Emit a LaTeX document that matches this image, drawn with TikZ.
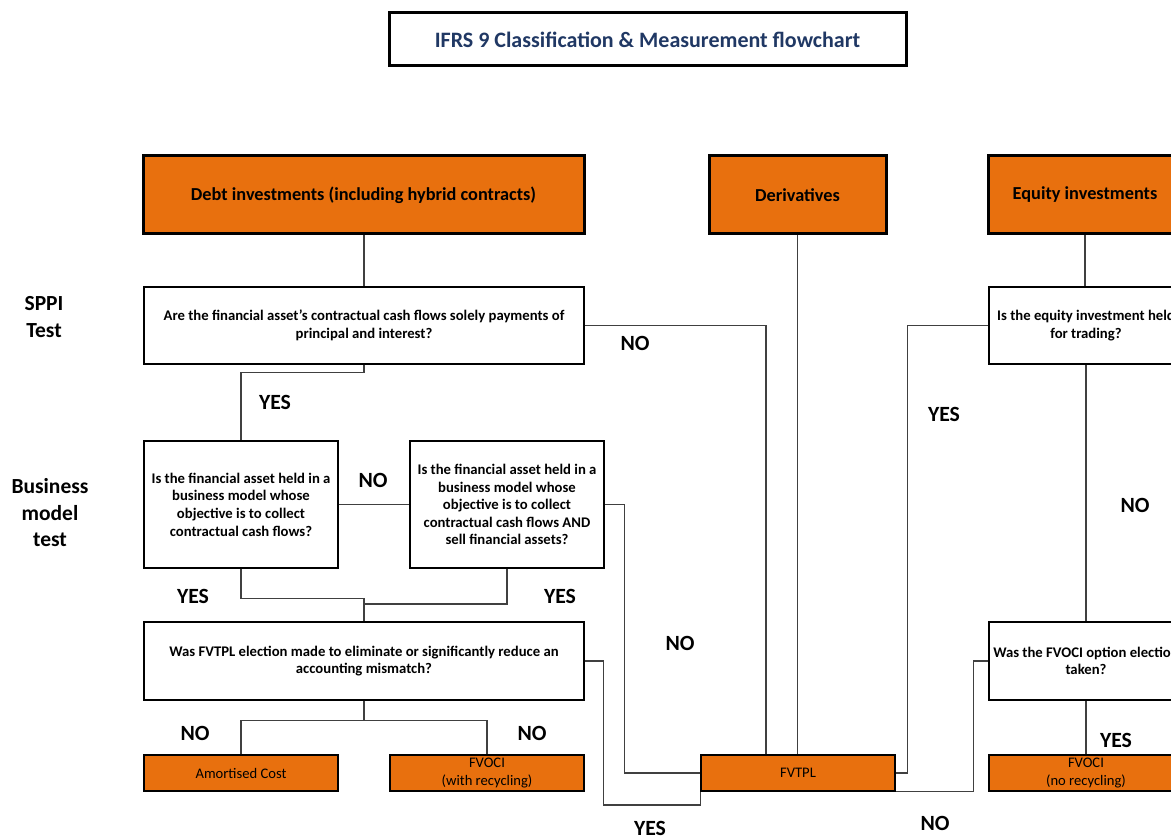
\documentclass[tikz,border=0pt]{standalone}
\usepackage{fontspec}
\setmainfont{Carlito}
\usetikzlibrary{positioning}
\definecolor{ifrsorange}{RGB}{232,112,14}
\definecolor{ifrsnavy}{RGB}{32,56,100}
\definecolor{linegray}{RGB}{64,64,64}

\begin{document}
\begin{tikzpicture}[x=1pt, y=-1pt,
    titlebox/.style={draw=black, line width=3pt, fill=white, text=ifrsnavy, inner sep=0pt,
        minimum width=517pt, minimum height=53pt, font=\bfseries\fontsize{22}{24}\selectfont},
    headbox/.style={draw=black, line width=3pt, fill=ifrsorange, inner sep=0pt,
        minimum height=78pt, font=\bfseries\fontsize{18.3}{20}\selectfont},
    qbox/.style={draw=black, line width=1.1pt, fill=white, inner sep=0pt, align=center,
        font=\bfseries\fontsize{14.7}{17.6}\selectfont},
    resbox/.style={draw=black, line width=1.4pt, fill=ifrsorange, inner sep=0pt, align=center,
        minimum width=194pt, minimum height=36pt, font=\fontsize{14.6}{18}\selectfont},
    lbl/.style={font=\bfseries\fontsize{21.7}{24}\selectfont},
    sidelbl/.style={align=center, font=\bfseries\fontsize{21.5}{26.5}\selectfont},
    conn/.style={draw=linegray, line width=1.3pt}]

    \clip (0, 0) rectangle (1171, 837);

    \node[titlebox] (title) at (647.5, 39.5) {IFRS 9 Classification \& Measurement flowchart};

    \node[headbox, minimum width=441pt] (debt) at (363.5, 195) {Debt investments (including hybrid contracts)};
    \node[headbox, minimum width=177pt] (deriv) at (797.5, 195) {Derivatives};
    \node[headbox, minimum width=194pt] (equity) at (1085, 195) {Equity investments};

    \node[sidelbl] (sppilbl) at (44, 317) {SPPI \\ Test};
    \node[sidelbl] (bmlbl) at (50, 513) {Business \\ model \\ test};

    \node[qbox, minimum width=440pt, minimum height=77pt] (sppi) at (364, 325.5)
        {Are the financial asset’s contractual cash flows solely payments of \\ principal and interest?};
    \node[qbox, minimum width=194pt, minimum height=77pt] (trading) at (1086, 325.5)
        {Is the equity investment held \\ for trading?};

    \node[qbox, minimum width=194pt, minimum height=127pt] (collect) at (241, 504.5)
        {Is the financial asset held in a \\ business model whose \\ objective is to collect \\ contractual cash flows?};
    \node[qbox, minimum width=194pt, minimum height=127pt] (collectsell) at (507, 504.5)
        {Is the financial asset held in a \\ business model whose \\ objective is to collect \\ contractual cash flows AND \\ sell financial assets?};

    \node[qbox, minimum width=440pt, minimum height=78pt] (mismatch) at (364, 661)
        {Was FVTPL election made to eliminate or significantly reduce an \\ accounting mismatch?};
    \node[qbox, minimum width=194pt, minimum height=78pt] (option) at (1086, 661)
        {Was the FVOCI option election \\ taken?};

    \node[resbox] (amort) at (241, 773) {Amortised Cost};
    \node[resbox] (fvocirec) at (487, 773) {FVOCI \\ (with recycling)};
    \node[resbox] (fvtpl) at (798, 773) {FVTPL};
    \node[resbox] (fvocinorec) at (1086, 773) {FVOCI \\ (no recycling)};

    \coordinate (join) at (364, 604);

    \draw[conn] (debt.south -| sppi.north) -- (sppi.north);
    \draw[conn] (deriv.south) -- (deriv.south |- fvtpl.north);
    \draw[conn] (equity.south) -- (equity.south |- trading.north);
    \draw[conn] (sppi.east) -| ([xshift=-32pt]fvtpl.north);
    \draw[conn] (sppi.south) -- ++(0, 8) -| (collect.north);
    \draw[conn] (collect.east) -- (collectsell.west);
    \draw[conn] (collectsell.east) -- ++(20, 0) |- (fvtpl.west);
    \draw[conn] (collect.south) -- ++(0, 30) -| (mismatch.north);
    \draw[conn] (collectsell.south) |- (join);
    \draw[conn] (mismatch.east) -- ++(19, 0) -- ++(0, 144) -| (fvtpl.south west);
    \draw[conn] (mismatch.south) -- ++(0, 20) -| (amort.north);
    \draw[conn] (mismatch.south) -- ++(0, 20) -| (fvocirec.north);
    \draw[conn] (trading.west) -- ++(-81, 0) |- (fvtpl.east);
    \draw[conn] (trading.south) -- (option.north);
    \draw[conn] (option.west) -- ++(-15, 0) |- (fvtpl.south east);
    \draw[conn] (option.south) -- (fvocinorec.north);

    \node[lbl] (l1) at (635, 343) {NO};
    \node[lbl] (l2) at (275, 402) {YES};
    \node[lbl] (l3) at (373, 480) {NO};
    \node[lbl] (l4) at (193, 596) {YES};
    \node[lbl] (l5) at (560, 596) {YES};
    \node[lbl] (l6) at (680, 643) {NO};
    \node[lbl] (l7) at (195, 733) {NO};
    \node[lbl] (l8) at (532, 733) {NO};
    \node[lbl] (l9) at (650, 828) {YES};
    \node[lbl] (l10) at (935, 823) {NO};
    \node[lbl] (l11) at (944, 414) {YES};
    \node[lbl] (l12) at (1135, 505) {NO};
    \node[lbl] (l13) at (1116, 740) {YES};
\end{tikzpicture}
\end{document}
